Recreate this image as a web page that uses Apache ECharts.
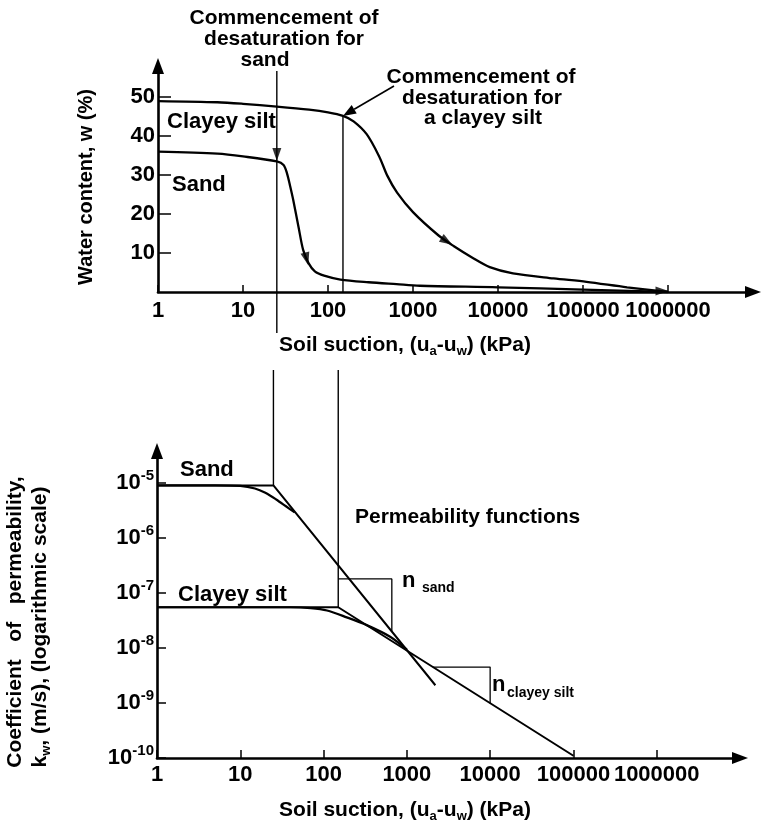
<!DOCTYPE html>
<html><head><meta charset="utf-8">
<script src="https://cdn.jsdelivr.net/npm/echarts@6/dist/echarts.min.js"></script>
<style>html,body{margin:0;padding:0;background:#fff}#c{width:764px;height:827px}</style>
</head><body><div id="c"></div>
<script>
// ---------- data ----------
const suctionTicks = [1, 10, 100, 1000, 10000, 100000, 1000000];
const waterTicks = [10, 20, 30, 40, 50];
const permTicks = [1e-10, 1e-9, 1e-8, 1e-7, 1e-6, 1e-5];

// soil-water characteristic curves: [suction kPa, water content %]
const wClayeySilt = [[1,49],[5,48.7],[10,48.3],[25,47.6],[60,46.8],[100,46.1],[150,45.2],[200,43.8],[285,40.5],[400,34.8],[500,29.8],[650,25.5],[1000,20.5],[2000,14.5],[3000,11.8],[5000,8.8],[8000,6.4],[15000,4.8],[45000,3.5],[110000,2.6],[330000,1.2],[1000000,0]];
const wSand = [[1,36],[5,35.5],[10,34.8],[25,33.5],[30,32.6],[33,30.4],[36,27],[39,23.6],[45,16.7],[51,10.8],[59,7.4],[70,5.3],[90,4.2],[140,3.2],[300,2.5],[640,2.0],[1200,1.6],[10000,1.2],[100000,0.6],[1000000,0]];
// arrowheads on the curves: [suction, w]
const wArrowPoints = [[56,8.5],[2500,13.0],[1000000,0],[25,33.5]];

// air-entry (commencement of desaturation) suctions, kPa
const aevSand = 25;
const aevClayeySilt = 150;
const wAtAevClayeySilt = 45.2;

// permeability functions: [suction kPa, k m/s]
const kSandAsymptote = [[1,9e-6],[25,9e-6],[2200,2.1e-9]];
const kSandCurve = [[1,9e-6],[5,9e-6],[10,8.8e-6],[15,7.9e-6],[20,6.6e-6],[27,5.0e-6],[35,3.8e-6],[45,2.9e-6]];
const kClayAsymptote = [[1,5.5e-8],[150,5.5e-8],[100000,1.1e-10]];
const kClayCurve = [[1,5.5e-8],[40,5.5e-8],[70,5.3e-8],[110,4.8e-8],[190,3.6e-8],[330,2.6e-8],[630,1.6e-8],[1000,9.3e-9]];
const nSandTriangle = [[150,1.8e-7],[660,1.8e-7],[660,1.98e-8]];
const nClayTriangle = [[2050,4.5e-9],[10000,4.5e-9],[10000,9.9e-10]];

// ---------- styles ----------
const FONT = '"Liberation Sans", Arial, sans-serif';
const BLACK = '#000';
const arrowRot = [-165, -122, -90, 180];
const arrowOff = [[0,0],[0,0],[-6,-1],[0,-7]];

const tickLabel = {fontFamily: FONT, fontWeight: 'bold', fontSize: 22, color: BLACK};
const axisLine = {show: true, onZero: false, lineStyle: {color: BLACK, width: 2.6}, symbol: ['none', 'triangle'], symbolSize: [12, 16]};

const chart = echarts.init(document.getElementById('c'), null, {renderer: 'canvas'});

function lineSeries(data, xi, yi, width, smooth) {
  return {type: 'line', xAxisIndex: xi, yAxisIndex: yi, data: data, symbol: 'none', smooth: smooth ? 0.3 : false,
          lineStyle: {color: BLACK, width: width}, silent: true, z: 3};
}

const option = {
  animation: false,
  backgroundColor: '#fff',
  grid: [
    {left: 158, top: 66, width: 595, height: 226},
    {left: 157, top: 451, width: 583, height: 307}
  ],
  xAxis: [
    {gridIndex: 0, type: 'log', logBase: 10, min: 1, max: 1e7, axisLine: axisLine,
     axisTick: {show: true, inside: true, length: 7, lineStyle: {color: BLACK, width: 1.5}, customValues: suctionTicks},
     axisLabel: Object.assign({margin: 8, customValues: suctionTicks, formatter: v => String(Math.round(v))}, tickLabel),
     splitLine: {show: false}, minorTick: {show: false}},
    {gridIndex: 1, type: 'log', logBase: 10, min: 1, max: 1e7, axisLine: axisLine,
     axisTick: {show: true, inside: true, length: 8, lineStyle: {color: BLACK, width: 1.5}, customValues: suctionTicks},
     axisLabel: Object.assign({margin: 6, customValues: suctionTicks, formatter: v => String(Math.round(v))}, tickLabel),
     splitLine: {show: false}, minorTick: {show: false}}
  ],
  yAxis: [
    {gridIndex: 0, type: 'value', min: 0, max: 58, axisLine: axisLine,
     axisTick: {show: true, inside: true, length: 13, lineStyle: {color: BLACK, width: 1.5}, customValues: waterTicks},
     axisLabel: Object.assign({margin: 3, customValues: waterTicks}, tickLabel),
     splitLine: {show: false}},
    {gridIndex: 1, type: 'log', logBase: 10, min: 1e-10, max: 3.8e-5, axisLine: axisLine,
     axisTick: {show: true, inside: true, length: 9, lineStyle: {color: BLACK, width: 1.5}, customValues: permTicks},
     axisLabel: {margin: 3, customValues: permTicks,
       formatter: v => '{b|10}{s|' + Math.round(Math.log10(v)) + '}',
       rich: {
         b: {fontFamily: FONT, fontWeight: 'bold', fontSize: 22, lineHeight: 30, color: BLACK},
         s: {fontFamily: FONT, fontWeight: 'bold', fontSize: 15, lineHeight: 15, verticalAlign: 'top', color: BLACK}
       }},
     splitLine: {show: false}, minorTick: {show: false}}
  ],
  series: [
    lineSeries(wClayeySilt, 0, 0, 2.3, true),
    lineSeries(wSand, 0, 0, 2.3, true),
    {type: 'scatter', xAxisIndex: 0, yAxisIndex: 0, silent: true, z: 5,
     data: wArrowPoints.map((p, i) => ({value: p, symbol: 'triangle', symbolSize: [9, 13], symbolRotate: arrowRot[i], symbolOffset: arrowOff[i]})),
     itemStyle: {color: BLACK}},
    lineSeries(kSandAsymptote, 1, 1, 2, false),
    lineSeries(kSandCurve, 1, 1, 2.2, true),
    lineSeries(kClayAsymptote, 1, 1, 2, false),
    lineSeries(kClayCurve, 1, 1, 2.2, true),
    lineSeries(nSandTriangle, 1, 1, 1.3, false),
    lineSeries(nClayTriangle, 1, 1, 1.3, false)
  ]
};
chart.setOption(option);

// ---------- overlay: guide lines and text ----------
const P0 = p => chart.convertToPixel({gridIndex: 0}, p);
const P1 = p => chart.convertToPixel({gridIndex: 1}, p);

const xSand0 = P0([aevSand, 0])[0];
const xClay0 = P0([aevClayeySilt, 0])[0];
const xSand1 = P1([aevSand, 1e-5])[0];
const xClay1 = P1([aevClayeySilt, 1e-5])[0];
const ySandCorner = P1(kSandAsymptote[1])[1];
const yClayCorner = P1(kClayAsymptote[1])[1];
const clayAev = P0([aevClayeySilt, wAtAevClayeySilt]);
const axis0 = P0([1, 0])[1];

function L(x1, y1, x2, y2, w) {
  return {type: 'line', silent: true, z: 10, shape: {x1, y1, x2, y2}, style: {stroke: BLACK, lineWidth: w || 1.4}};
}
function T(text, x, y, size, align, extra) {
  return Object.assign({type: 'text', silent: true, z: 10, x, y,
    style: {text, fill: BLACK, fontFamily: FONT, fontWeight: 'bold', fontSize: size, align: align || 'left', verticalAlign: 'middle'}}, extra || {});
}
function richTitle(x, y, rot, lead, s1, mid, s2, tail) {
  return {type: 'text', silent: true, z: 10, x, y, rotation: rot || 0,
    style: {text: '{m|' + lead + '}{s|' + s1 + '}' + (mid ? '{m|' + mid + '}{s|' + s2 + '}' : '') + '{m|' + tail + '}',
      align: 'center', verticalAlign: 'middle',
      rich: {m: {fontFamily: FONT, fontWeight: 'bold', fontSize: 21, lineHeight: 26, fill: BLACK, color: BLACK},
             s: {fontFamily: FONT, fontWeight: 'bold', fontSize: 13, lineHeight: 13, verticalAlign: 'bottom', fill: BLACK, color: BLACK}}}};
}

// annotation arrow toward clayey silt air-entry point
const tail = [394, 86];
const tip = clayAev;
const dx = tip[0] - tail[0], dy = tip[1] - tail[1];
const len = Math.hypot(dx, dy), ux = dx / len, uy = dy / len;
const hb = [tip[0] - ux * 13, tip[1] - uy * 13];
const head = [[tip[0], tip[1]], [hb[0] - uy * 5, hb[1] + ux * 5], [hb[0] + uy * 5, hb[1] - ux * 5]];

const graphics = [
  L(xSand0, 71, xSand0, 333),
  L(xClay0, clayAev[1], xClay0, axis0),
  L(xSand1, 370, xSand1, ySandCorner),
  L(xClay1, 370, xClay1, yClayCorner),
  L(tail[0], tail[1], hb[0], hb[1], 1.6),
  {type: 'polygon', silent: true, z: 10, shape: {points: head}, style: {fill: BLACK}},

  T('Commencement of', 284, 18, 21, 'center'),
  T('desaturation for', 284, 39, 21, 'center'),
  T('sand', 265, 60, 21, 'center'),
  T('Commencement of', 481, 77, 21, 'center'),
  T('desaturation for', 482, 98, 21, 'center'),
  T('a clayey silt', 483, 118, 21, 'center'),

  T('Clayey silt', 167, 122, 22),
  T('Sand', 172, 185, 22),
  T('Sand', 180, 470, 22),
  T('Clayey silt', 178, 595, 22),
  T('Permeability functions', 355, 517, 21),
  T('n', 402, 581, 22),
  T('sand', 422, 588, 14),
  T('n', 492, 685, 22),
  T('clayey silt', 507, 693, 14),

  T('Water content, w (%)', 86, 187, 20, 'center', {rotation: Math.PI / 2}),
  richTitle(405, 345, 0, 'Soil suction, (u', 'a', '-u', 'w', ') (kPa)'),
  richTitle(405, 810, 0, 'Soil suction, (u', 'a', '-u', 'w', ') (kPa)'),
  T('Coefficient   of   permeability,', 15, 622, 21, 'center', {rotation: Math.PI / 2}),
  richTitle(40, 627, Math.PI / 2, 'k', 'w', null, null, ', (m/s), (logarithmic scale)')
];
chart.setOption({graphic: graphics});
</script>
</body></html>
